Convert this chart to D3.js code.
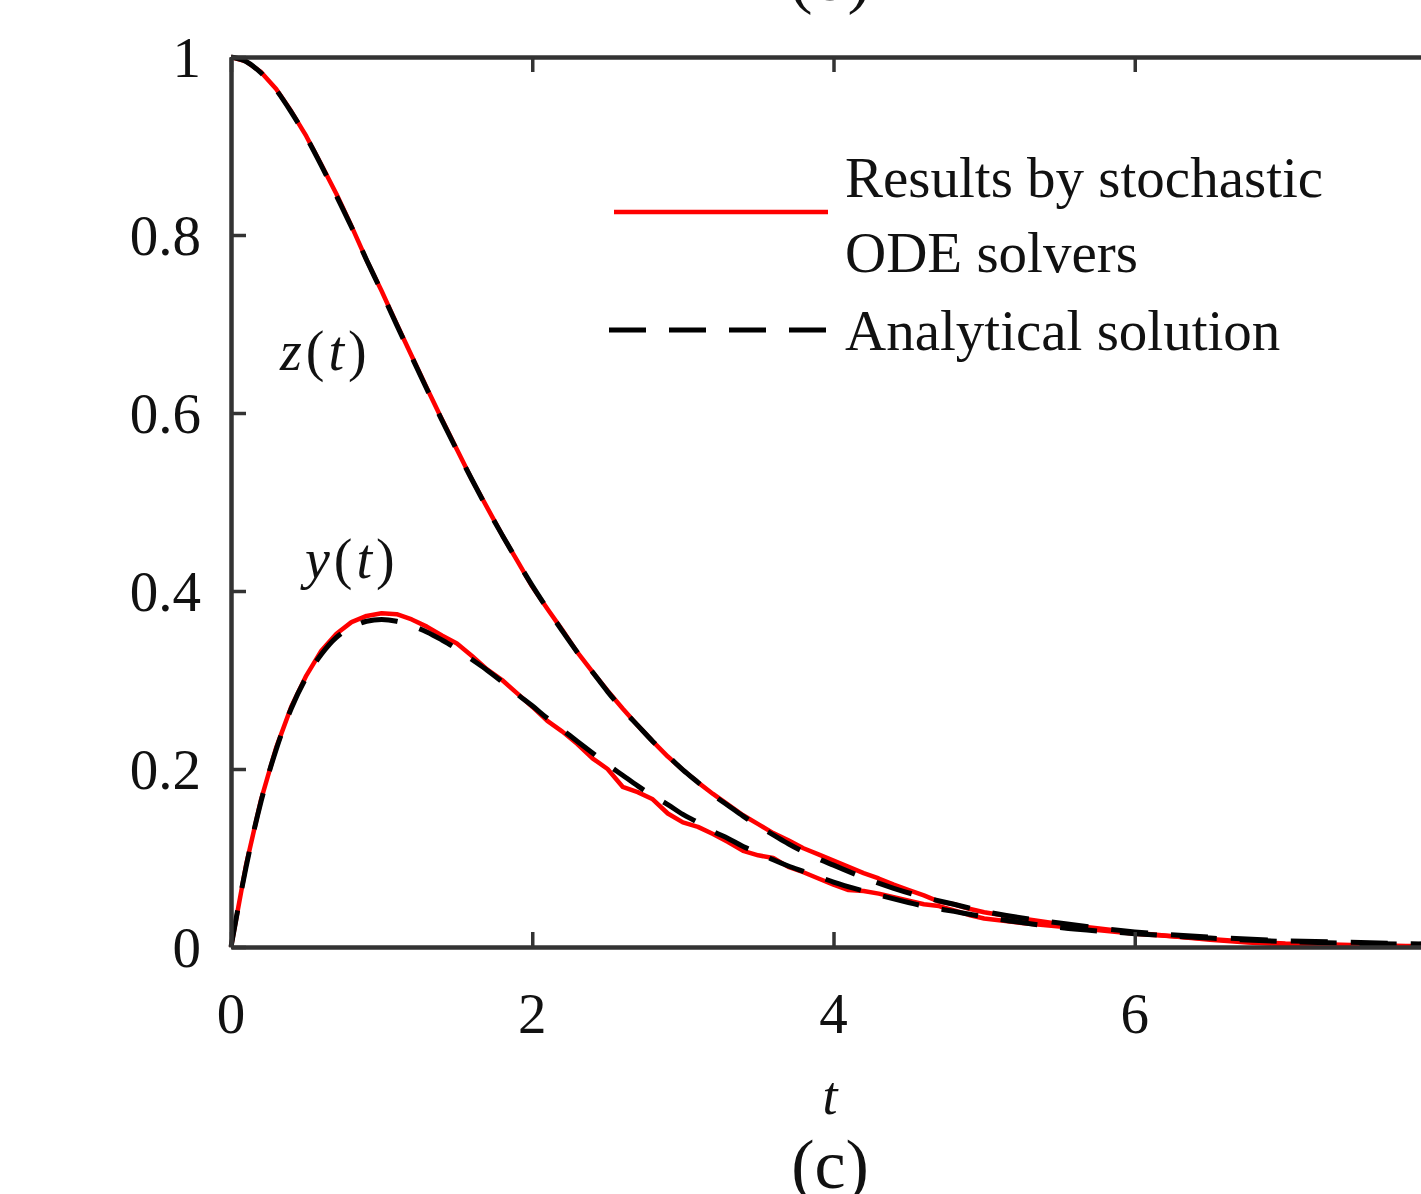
<!DOCTYPE html>
<html>
<head>
<meta charset="utf-8">
<script src="https://cdn.jsdelivr.net/npm/d3@7"></script>
<style>
  body { margin: 0; background: #fff; }
  svg { display: block; }
  text { font-family: "Liberation Serif", "Times New Roman", serif; fill: #111; }
</style>
</head>
<body>
<svg id="chart" width="1421" height="1194"></svg>
<script>
// analytical solution
const tExact = [0,0.1,0.2,0.3,0.4,0.5,0.6,0.7,0.8,0.9,1.0,1.1,1.2,1.3,1.4,1.5,1.6,1.7,1.8,1.9,
  2.0,2.1,2.2,2.3,2.4,2.5,2.6,2.7,2.8,2.9,3.0,3.1,3.2,3.3,3.4,3.5,3.6,3.7,3.8,3.9,
  4.0,4.2,4.4,4.6,4.8,5.0,5.5,6.0,6.5,7.0,7.5,8.0]
const zExact = [1,.995,.982,.963,.938,.910,.878,.844,.809,.772,.736,.699,.663,.627,.592,.558,.525,.493,.463,.434,
  .406,.380,.355,.331,.309,.287,.267,.249,.231,.215,.199,.185,.171,.159,.147,.136,.126,.116,.107,.099,
  .092,.078,.066,.056,.048,.040,.027,.017,.011,.007,.005,.003]
const yExact = [0,.090,.164,.222,.268,.303,.329,.348,.359,.366,.368,.366,.361,.354,.345,.335,.323,.311,.298,.284,
  .271,.257,.244,.231,.218,.205,.193,.181,.170,.160,.149,.140,.130,.122,.113,.106,.098,.091,.085,.079,
  .073,.063,.054,.046,.040,.034,.022,.015,.010,.006,.004,.003]

// stochastic ODE solver results (red)
const tSim = [0,0.1,0.2,0.3,0.4,0.5,0.6,0.7,0.8,0.9,1.0,1.1,1.2,1.3,1.4,1.5,1.6,1.7,1.8,1.9,
  2.0,2.1,2.2,2.3,2.4,2.5,2.6,2.7,2.8,2.9,3.0,3.1,3.2,3.3,3.4,3.5,3.6,3.7,3.8,3.9,
  4.0,4.1,4.2,4.3,4.4,4.5,4.6,4.7,4.8,4.9,5.0,
  5.25,5.5,5.75,6.0,6.25,6.5,6.75,7.0,7.25,7.5,7.75,8.0]
const zSim = [1,.995,.983,.964,.939,.911,.879,.846,.810,.772,.737,.700,.664,.628,.593,.559,.525,.494,.463,.434,
  .405,.380,.356,.331,.309,.288,.268,.249,.231,.214,.199,.185,.172,.160,.148,.138,.128,.120,.111,.104,
  .097,.090,.083,.077,.070,.064,.058,.051,.048,.043,.039,
  .032,.026,.021,.016,.012,.009,.006,.004,.003,.002,.001,.001]
const ySim = [0,.092,.166,.224,.270,.305,.333,.352,.365,.372,.375,.374,.368,.360,.350,.341,.327,.312,.300,.285,
  .270,.254,.242,.228,.212,.200,.180,.174,.166,.150,.140,.135,.127,.118,.108,.103,.100,.090,.084,.077,
  .070,.064,.063,.060,.056,.052,.048,.046,.041,.036,.032,
  .027,.023,.019,.015,.012,.008,.005,.003,.002,.001,.001,.000]

const xTicks = [0,2,4,6,8]
const xLabels = [0,2,4,6]   // the 8 falls past the right edge of the picture
const yTicks = [0,0.2,0.4,0.6,0.8,1]
const legendItems = ["Results by stochastic", "ODE solvers", "Analytical solution"]

const svg = d3.select("#chart")
const m = {left:231, top:57, right:1436, bottom:947}

const x = d3.scaleLinear().domain([0,8]).range([m.left, m.right])
const y = d3.scaleLinear().domain([0,1]).range([m.bottom, m.top])

const line = (ts, vs, curve) => d3.line()
  .x((d,i) => x(ts[i])).y(d => y(d)).curve(curve)(vs)

// red first, dashed black on top
const plot = svg.append("g")
;[zSim, ySim].forEach(s => {
  plot.append("path").attr("d", line(tSim, s, d3.curveLinear))
    .attr("fill","none").attr("stroke","#ff0000").attr("stroke-width",4.5)
    .attr("stroke-linejoin","round")
})
;[zExact, yExact].forEach(s => {
  plot.append("path").attr("d", line(tExact, s, d3.curveMonotoneX))
    .attr("fill","none").attr("stroke","#000").attr("stroke-width",5)
    .attr("stroke-dasharray","37,23")
})

// frame + inward ticks on all sides
const axCol = "#333"
const tl = 15
svg.append("g").attr("transform",`translate(0,${m.bottom})`)
  .call(d3.axisBottom(x).tickValues(xTicks).tickSizeInner(-tl).tickSizeOuter(0).tickFormat(""))
svg.append("g").attr("transform",`translate(0,${m.top})`)
  .call(d3.axisTop(x).tickValues(xTicks).tickSizeInner(-tl).tickSizeOuter(0).tickFormat(""))
svg.append("g").attr("transform",`translate(${m.left},0)`)
  .call(d3.axisLeft(y).tickValues(yTicks).tickSizeInner(-tl).tickSizeOuter(0).tickFormat(""))
svg.append("g").attr("transform",`translate(${m.right},0)`)
  .call(d3.axisRight(y).tickValues(yTicks).tickSizeInner(-tl).tickSizeOuter(0).tickFormat(""))
svg.selectAll(".domain").attr("stroke",axCol).attr("stroke-width",4.5)
svg.selectAll(".tick line").attr("stroke",axCol).attr("stroke-width",3.5)

// tick labels
svg.append("g").selectAll("text").data(xLabels).join("text")
  .attr("x", d => x(d)).attr("y", 1033).attr("text-anchor","middle")
  .attr("font-size",57).text(d => d)
svg.append("g").selectAll("text").data(yTicks).join("text")
  .attr("x", 201).attr("y", d => y(d) + 20).attr("text-anchor","end")
  .attr("font-size",57).text(d => d)

// axis label and panel captions
svg.append("text").attr("x",830).attr("y",1114).attr("text-anchor","middle")
  .attr("font-size",54).attr("font-style","italic").text("t")
svg.append("text").attr("x",830).attr("y",1188).attr("text-anchor","middle")
  .attr("font-size",70).text("(c)")
svg.append("text").attr("x",830).attr("y",0).attr("text-anchor","middle")
  .attr("font-size",70).text("(b)")

// curve labels z(t), y(t)
function fnLabel(g, px, py, v) {
  const t = g.append("text").attr("x",px).attr("y",py).attr("font-size",56)
    .attr("letter-spacing",4)
  t.append("tspan").attr("font-style","italic").text(v)
  t.append("tspan").text("(")
  t.append("tspan").attr("font-style","italic").text("t")
  t.append("tspan").text(")")
}
fnLabel(svg, 280, 370, "z")
fnLabel(svg, 305, 578, "y")

// legend
const lg = svg.append("g")
lg.append("line").attr("x1",614).attr("x2",828).attr("y1",212).attr("y2",212)
  .attr("stroke","#ff0000").attr("stroke-width",4.5)
lg.append("line").attr("x1",609).attr("x2",828).attr("y1",330).attr("y2",330)
  .attr("stroke","#000").attr("stroke-width",5).attr("stroke-dasharray","37,23")
lg.selectAll("text").data(legendItems).join("text")
  .attr("x",845).attr("y",(d,i) => [197,272,350][i])
  .attr("font-size",57).text(d => d)
</script>
</body>
</html>
